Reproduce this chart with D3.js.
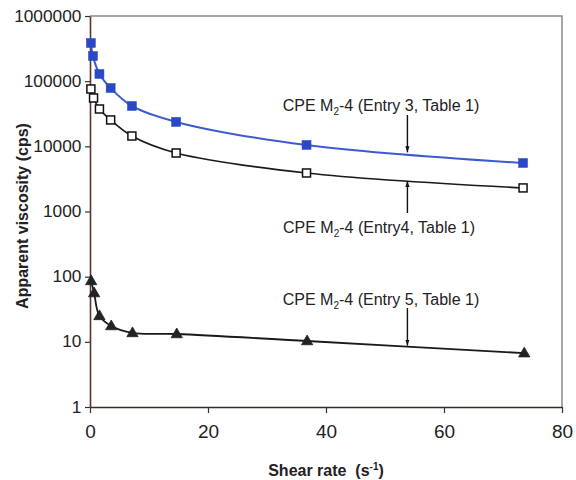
<!DOCTYPE html>
<html><head><meta charset="utf-8">
<script src="https://cdn.jsdelivr.net/npm/d3@7"></script>
<style>
html,body{margin:0;padding:0;background:#fff;}
svg{display:block;font-family:"Liberation Sans",Arial,sans-serif;}
</style></head>
<body>
<svg id="c" width="576" height="480"></svg>
<script>
// Data
const shearEntry3 = [0.15, 0.5, 1.6, 3.5, 7.1, 14.6, 36.7, 73.4];
const viscEntry3  = [385000, 243000, 129000, 78500, 41600, 23700, 10500, 5550];
const shearEntry4 = [0.15, 0.6, 1.6, 3.5, 7.1, 14.6, 36.7, 73.4];
const viscEntry4  = [75900, 55200, 37400, 25400, 14400, 7900, 3900, 2300];
const shearEntry5 = [0.2, 0.7, 1.6, 3.6, 7.2, 14.7, 36.8, 73.6];
const viscEntry5  = [86, 56, 25, 17.5, 13.7, 13.2, 10.3, 6.7];
const xTicks = [0, 20, 40, 60, 80];
const yTicks = [1, 10, 100, 1000, 10000, 100000, 1000000];
const labels = ["(Entry 3, Table 1)", "(Entry4, Table 1)", "(Entry 5, Table 1)"];

const svg = d3.select("#c");
const L = 90, R = 562, T = 16, B = 407;
const x = d3.scaleLinear().domain([0, 80]).range([L, R]);
const y = d3.scaleLog().domain([1, 1000000]).range([B, T]);

// frame (top/right)
svg.append("path").attr("d", `M${L},${T}H${R}V${B}`).attr("fill","none").attr("stroke","#8a8a8a").attr("stroke-width",1.5);

// axes
const xAxis = svg.append("g").attr("transform", `translate(0,${B})`)
  .call(d3.axisBottom(x).tickValues(xTicks).tickSize(6).tickSizeOuter(0).tickPadding(12));
xAxis.select(".domain").attr("stroke","#3a2a28").attr("stroke-width",1.6);
xAxis.selectAll(".tick line").attr("stroke","#333").attr("stroke-width",1.2);
xAxis.selectAll("text").attr("font-size",19).attr("fill","#222").attr("font-family","Liberation Sans, Arial, sans-serif");

const yAxis = svg.append("g").attr("transform", `translate(${L},0)`)
  .call(d3.axisLeft(y).tickValues(yTicks).tickFormat(d3.format("d")).tickSize(5).tickSizeOuter(0).tickPadding(3));
yAxis.select(".domain").attr("stroke","#5a3530").attr("stroke-width",1.6);
yAxis.selectAll(".tick line").attr("stroke","#333").attr("stroke-width",1.2);
yAxis.selectAll("text").attr("font-size",16).attr("fill","#222").attr("font-family","Liberation Sans, Arial, sans-serif")
  .attr("transform","scale(1.08,1)");

// axis titles
svg.append("text").attr("x", 326).attr("y", 476).attr("text-anchor","middle")
  .attr("font-size",16).attr("font-weight","bold").attr("fill","#222")
  .html('Shear rate &#160;(s<tspan font-size="10" dy="-6">-1</tspan><tspan dy="6">)</tspan>');
svg.append("text").attr("transform","translate(28,216) rotate(-90)").attr("text-anchor","middle")
  .attr("font-size",16).attr("font-weight","bold").attr("fill","#222")
  .text("Apparent viscosity  (cps)");

// series
const line = d3.line().x(d => x(d[0])).y(d => y(d[1])).curve(d3.curveCatmullRom.alpha(0.5));
const s3 = shearEntry3.map((v,i)=>[v, viscEntry3[i]]);
const s4 = shearEntry4.map((v,i)=>[v, viscEntry4[i]]);
const s5 = shearEntry5.map((v,i)=>[v, viscEntry5[i]]);

svg.append("path").datum(s3).attr("d", line).attr("fill","none").attr("stroke","#3d5bd0").attr("stroke-width",2);
svg.append("path").datum(s4).attr("d", line).attr("fill","none").attr("stroke","#1a1a1a").attr("stroke-width",1.6);
svg.append("path").datum(s5).attr("d", line).attr("fill","none").attr("stroke","#1a1a1a").attr("stroke-width",1.8);

svg.selectAll(".m3").data(s3).enter().append("rect")
  .attr("x", d=>x(d[0])-4.5).attr("y", d=>y(d[1])-4.5).attr("width",9).attr("height",9)
  .attr("fill","#2a47c6").attr("stroke","#2a47c6").attr("stroke-width",0.5);
svg.selectAll(".m4").data(s4).enter().append("rect")
  .attr("x", d=>x(d[0])-4).attr("y", d=>y(d[1])-4).attr("width",8).attr("height",8)
  .attr("fill","#fff").attr("stroke","#111").attr("stroke-width",1.5);
const tri = d3.symbol().type(d3.symbolTriangle).size(55);
svg.selectAll(".m5").data(s5).enter().append("path")
  .attr("d", tri).attr("transform", d=>`translate(${x(d[0])},${y(d[1])+0.5})`)
  .attr("fill","#222").attr("stroke","#222").attr("stroke-width",0.8);

// annotations
svg.append("defs").append("marker").attr("id","ah").attr("viewBox","0 0 10 10")
  .attr("refX",10).attr("refY",5).attr("markerWidth",6).attr("markerHeight",6)
  .attr("orient","auto-start-reverse").attr("markerUnits","userSpaceOnUse")
  .append("path").attr("d","M0,1.5L10,5L0,8.5Z").attr("fill","#111");

const ax = 53.8;
function interpY(series, xv){
  // log-linear interpolation between 36.x and 73.x points (last two)
  const a = series[series.length-2], b = series[series.length-1];
  const t = (xv - a[0])/(b[0]-a[0]);
  return Math.exp(Math.log(a[1]) + t*(Math.log(b[1])-Math.log(a[1])));
}
function label(tx, ty, tail){
  const t = svg.append("text").attr("x", tx).attr("y", ty).attr("text-anchor","middle")
    .attr("font-size",16).attr("fill","#222");
  t.append("tspan").text("CPE  M");
  t.append("tspan").attr("font-size",10).attr("dy",4).text("2");
  t.append("tspan").attr("dy",-4).text("-4 " + tail);
}
label(381, 111, labels[0]);
svg.append("line").attr("x1", x(ax)).attr("x2", x(ax)).attr("y1", 115).attr("y2", y(interpY(s3, ax))-1)
  .attr("stroke","#111").attr("stroke-width",1.4).attr("marker-end","url(#ah)");
label(379, 233, labels[1]);
svg.append("line").attr("x1", x(ax)).attr("x2", x(ax)).attr("y1", 213).attr("y2", y(interpY(s4, ax))+1)
  .attr("stroke","#111").attr("stroke-width",1.4).attr("marker-end","url(#ah)");
label(381, 305, labels[2]);
svg.append("line").attr("x1", x(ax)).attr("x2", x(ax)).attr("y1", 308).attr("y2", y(interpY(s5, ax))-1)
  .attr("stroke","#111").attr("stroke-width",1.4).attr("marker-end","url(#ah)");
</script>
</body></html>
